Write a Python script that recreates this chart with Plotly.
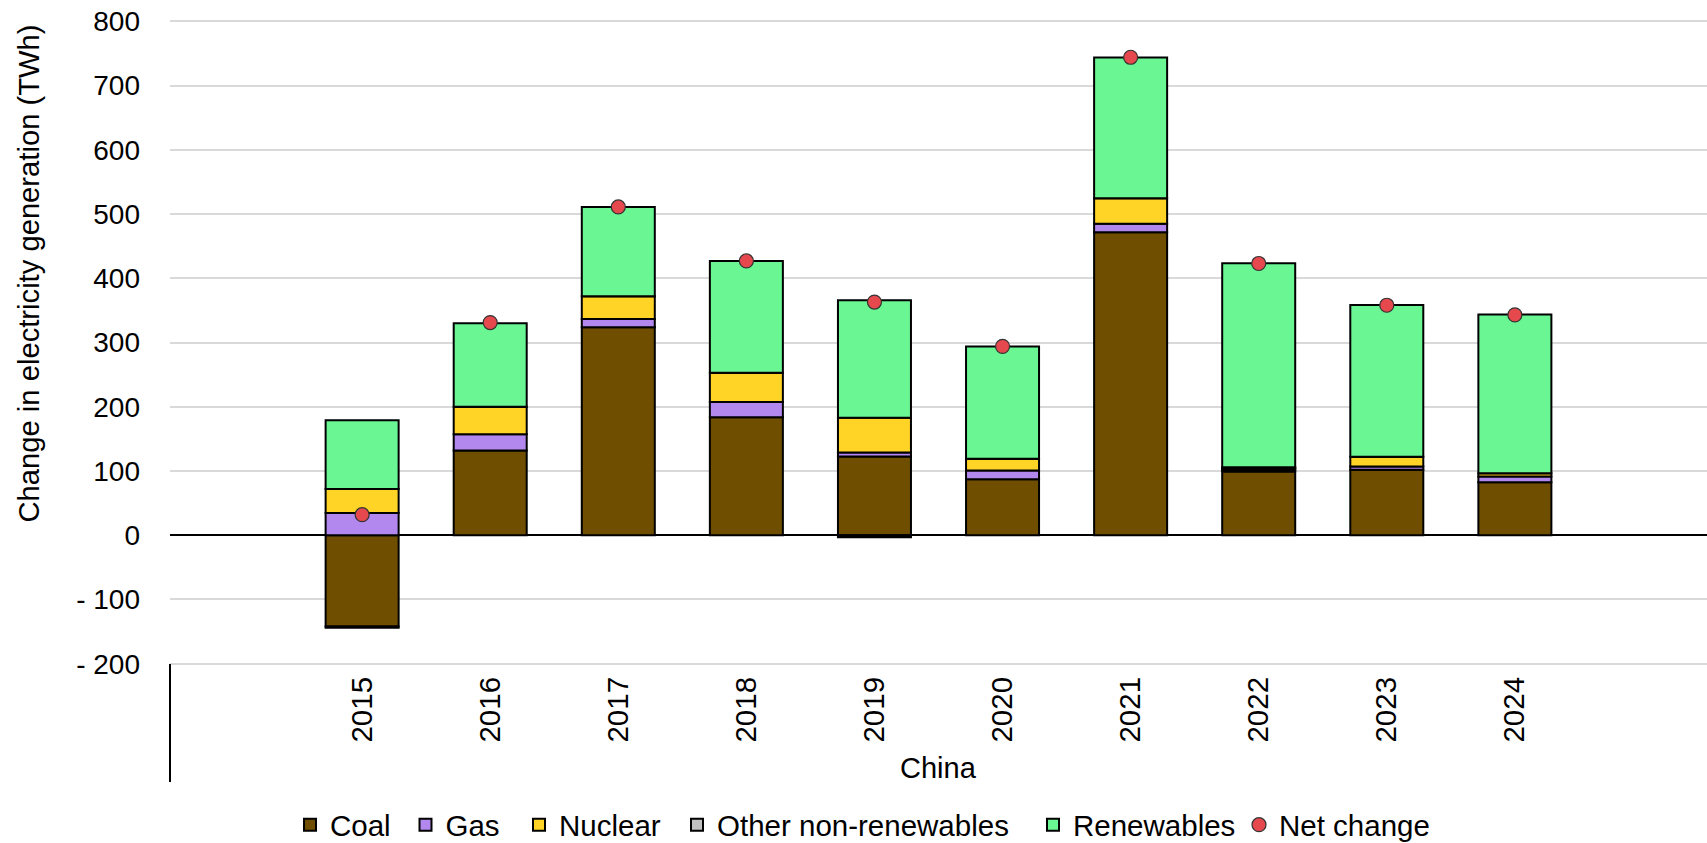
import plotly.graph_objects as go

years = ["2015", "2016", "2017", "2018", "2019", "2020", "2021", "2022", "2023", "2024"]
coal = [-142, 131.7, 323.6, 183.6, 122.6, 87.2, 471.5, 99.2, 101.9, 82.6]
gas = [34.5, 25.3, 12.9, 23.9, 6.2, 13.6, 13.5, 3.0, 5.1, 8.9]
nuclear = [37.5, 43.0, 35.5, 45.5, 54.2, 18.2, 39.4, 2.0, 15.0, 5.1]
other = [-2.0, 0, 0, 0, -3.0, 0, 0, 1.5, 0, 0]
renewables = [107, 130, 139, 174, 182.6, 174.6, 219.3, 317.5, 236.5, 246.8]
net_change = [32, 331, 511, 427, 363, 294, 744, 423, 358, 343]
y_ticks = [-200, -100, 0, 100, 200, 300, 400, 500, 600, 700, 800]
y_tick_text = ["- 200", "- 100", "0", "100", "200", "300", "400", "500", "600", "700", "800"]

# category slots: one empty slot before 2015 and one after 2024
xpos = list(range(1, len(years) + 1))

FONT = "Liberation Sans, Arial, sans-serif"

# figure geometry (page body margin is removed below, so figure px == page px)
W, H = 1707, 843
ML, MR, MT, MB = 170, 0, 20, 178
PW, PH = W - ML - MR, H - MT - MB


def px_x(page_x):
    return (page_x - ML) / PW


def px_y(page_y):
    return (H - MB - page_y) / PH


series = [
    ("Coal", coal, "#6F4E00"),
    ("Gas", gas, "#B388EE"),
    ("Nuclear", nuclear, "#FFD426"),
    ("Other non-renewables", other, "#C0C0C0"),
    ("Renewables", renewables, "#69F693"),
]
legend_ids = ["legend", "legend2", "legend3", "legend4", "legend5", "legend6"]
legend_left = [306, 421.5, 535, 693, 1049, 1255]  # page x of each legend entry

fig = go.Figure()
for i, (name, vals, col) in enumerate(series):
    fig.add_trace(go.Bar(
        x=xpos, y=vals, name=name, legend=legend_ids[i],
        marker=dict(color=col, line=dict(color="black", width=2)),
        width=0.57,
    ))

fig.add_trace(go.Scatter(
    x=xpos, y=net_change, name="Net change", mode="markers", legend=legend_ids[5],
    marker=dict(color="#E5484D", size=14, line=dict(color="#333333", width=1.2)),
))

legend_y = px_y(825)
legend_cfg = {}
for lid, lx in zip(legend_ids, legend_left):
    legend_cfg[lid] = dict(
        orientation="h", x=px_x(lx - 16), xanchor="left", y=legend_y, yanchor="middle",
        font=dict(family=FONT, size=29.5, color="black"),
        itemclick=False, bgcolor="rgba(0,0,0,0)",
    )

fig.update_layout(
    barmode="relative",
    width=W, height=H,
    margin=dict(l=ML, r=MR, t=MT, b=MB, autoexpand=False),
    paper_bgcolor="white", plot_bgcolor="white",
    font=dict(family=FONT, size=28, color="black"),
    showlegend=True,
    **legend_cfg,
)

fig.update_xaxes(
    range=[-0.5, 11.5], automargin=False,
    tickmode="array", tickvals=xpos, ticktext=years, tickangle=-90,
    showgrid=False, zeroline=False, showline=False,
    ticks="", ticklabelstandoff=5,
    tickfont=dict(family=FONT, size=29.5, color="black"),
)

fig.update_yaxes(
    range=[-202, 802], automargin=False, ticklabeloverflow="allow",
    tickmode="array", tickvals=y_ticks, ticktext=y_tick_text,
    showgrid=True, gridcolor="#D9D9D9", gridwidth=2,
    zeroline=True, zerolinecolor="black", zerolinewidth=2,
    showline=False, ticks="", ticklabelstandoff=29,
    tickfont=dict(family=FONT, size=28, color="black"),
)

# y-axis title
fig.add_annotation(
    text="Change in electricity generation (TWh)", textangle=-90,
    xref="paper", yref="paper", x=px_x(28.5), y=px_y(274),
    xanchor="center", yanchor="middle", showarrow=False,
    font=dict(family=FONT, size=29.2, color="black"),
)
# category group label
fig.add_annotation(
    text="China", xref="paper", yref="paper", x=0.5, y=px_y(767.5),
    xanchor="center", yanchor="middle", showarrow=False,
    font=dict(family=FONT, size=29, color="black"),
)
# group divider line of the category axis (from the -200 level downwards)
fig.add_shape(type="line", xref="paper", yref="y domain",
              x0=0, x1=0, y0=px_y(664), y1=px_y(782),
              line=dict(color="black", width=2))

fig.write_html(
    "out.html",
    config={"displayModeBar": False},
    post_script="document.body.style.margin='0';document.body.style.overflow='hidden';",
)
